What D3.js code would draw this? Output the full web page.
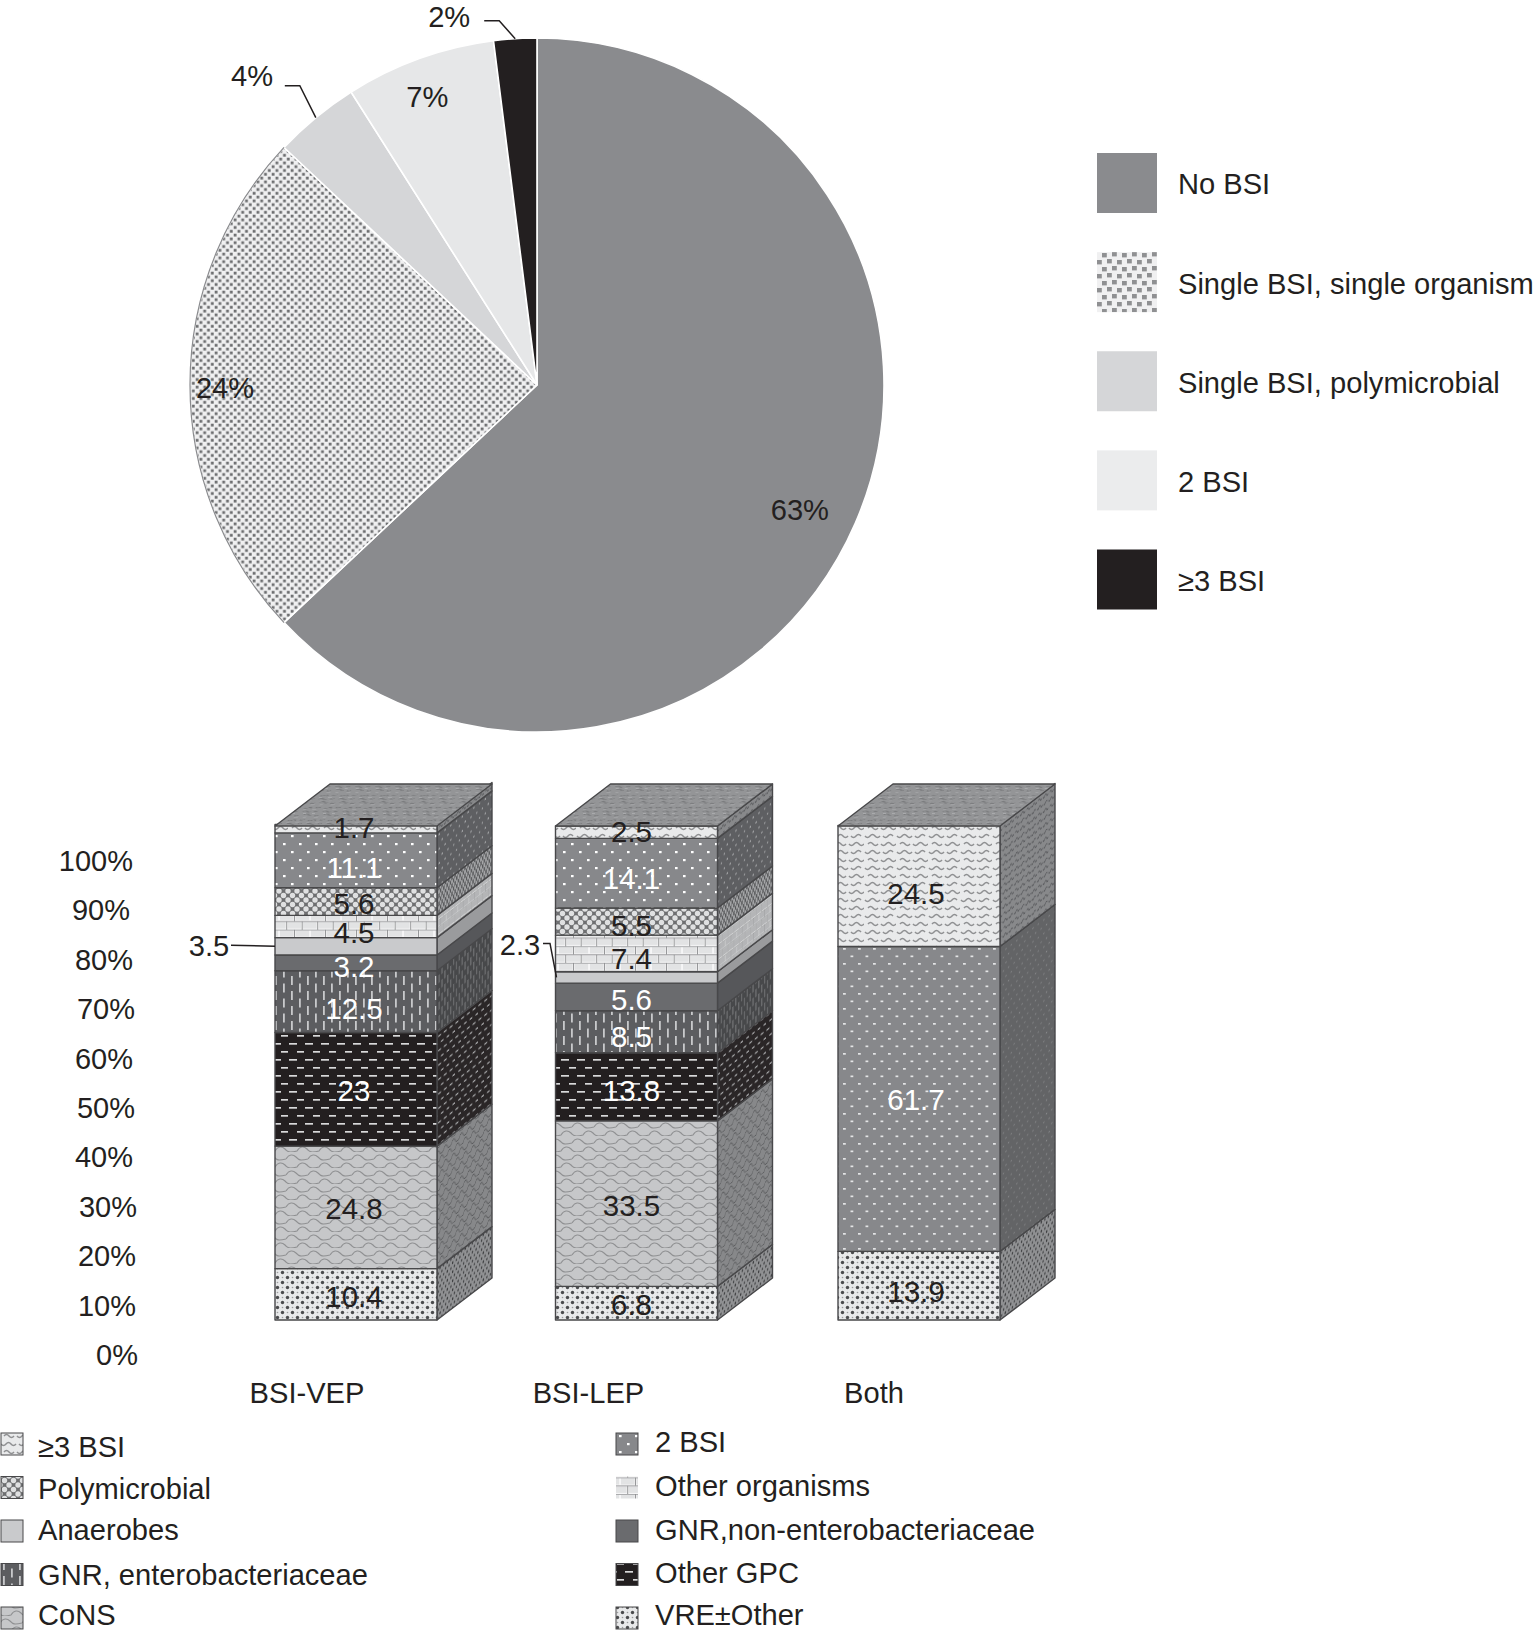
<!DOCTYPE html>
<html><head><meta charset="utf-8">
<script src="https://cdn.jsdelivr.net/npm/d3@7/dist/d3.min.js"></script>
<style>html,body{margin:0;padding:0;background:#fff}svg{display:block}text{font-family:"Liberation Sans",Arial,sans-serif;fill:#231f20}</style>
</head><body><div id="chart"></div>
<script>
// ---------- data ----------
const pieCategories = ["No BSI","Single BSI, single organism","Single BSI, polymicrobial","2 BSI","≥3 BSI"];
const pieValues = [63,24,4,7,2];
const barNames = ["BSI-VEP","BSI-LEP","Both"];
// bottom to top
const stackKeys = ["VRE±Other","CoNS","Other GPC","GNR, enterobacteriaceae","GNR,non-enterobacteriaceae","Anaerobes","Other organisms","Polymicrobial","2 BSI","≥3 BSI"];
const valuesVEP = [10.4,24.8,23,12.5,3.2,3.5,4.5,5.6,11.1,1.7];
const valuesLEP = [6.8,33.5,13.8,8.5,5.6,2.3,7.4,5.5,14.1,2.5];
const valuesBoth = [13.9,0,0,0,0,0,0,0,61.7,24.5];
const axisTicks = [0,10,20,30,40,50,60,70,80,90,100];
const legendLeft = ["≥3 BSI","Polymicrobial","Anaerobes","GNR, enterobacteriaceae","CoNS"];
const legendRight = ["2 BSI","Other organisms","GNR,non-enterobacteriaceae","Other GPC","VRE±Other"];
const whiteLabelKeys = ["2 BSI","GNR,non-enterobacteriaceae","GNR, enterobacteriaceae","Other GPC"];
const outsideLabelKeys = ["Anaerobes"];

// ---------- layout & style ----------
const W=1534,H=1632, INK="#231f20", EDGE="#48484a", FONT=29.1;
const pieCx=537,pieCy=385,pieR=347;
const pieFills=["#8a8b8e","url(#pieDots)","#d5d6d8","#e6e7e8",INK];
const pieSwatchFills=["#8a8b8e","url(#legendDots)","#d5d6d8","#ebeced",INK];
const pieLabelRadius=[291,312,421,309,379], pieLabelNudgeDeg=[2,-0.5,-3,-1,-9.8];
const barW=162, depthX=55, depthY=42;
// hand placement of the printed labels, in pixels, per bar, same order as stackKeys
const labelNudgeY=[[1,0,0,6,3,0,5,1,6,-2],[0,1,3,4,1,0,4,3,4,-2],[5,0,0,0,0,0,0,0,-1,6]];
const labelNudgeX=[-2,-5,-3];
const barNameNudgeX=[-49,-48,-45];
const tickRightEdge={0:138,10:136,20:136,30:137,40:133,50:135,60:133,70:135,80:133,90:130,100:133};
const legendTextNudge=[[3,1.5,-1,0.5,-3.5],[-2,-1.5,-1,-1.5,-3.5]];

const svg=d3.select("#chart").append("svg").attr("width",W).attr("height",H).attr("viewBox",`0 0 ${W} ${H}`);
const defs=svg.append("defs");

function makeTile(id,w,h,bg,paint,transform){
  const p=defs.append("pattern").attr("id",id).attr("patternUnits","userSpaceOnUse").attr("width",w).attr("height",h);
  if(transform)p.attr("patternTransform",transform);
  p.append("rect").attr("width",w).attr("height",h).attr("fill",bg);
  if(paint)paint(p);
}
const rects=(g,list,c)=>list.forEach(r=>g.append("rect").attr("x",r[0]).attr("y",r[1]).attr("width",r[2]).attr("height",r[3]).attr("fill",c));
const strokePath=(g,d,c,sw)=>g.append("path").attr("d",d).attr("fill","none").attr("stroke",c).attr("stroke-width",sw);
const dots=(g,list,r,c)=>list.forEach(p=>g.append("circle").attr("cx",p[0]).attr("cy",p[1]).attr("r",r).attr("fill",c));

const tiles={
  wave:{w:32,h:16,front:["#e9eaeb","#8f9092"],side:["#88898b","#5a5b5e"],paint:(g,c)=>{
    strokePath(g,"M1 4q2.5 3 5 0t5 0t5 0M19 4q2.5 3 5 0t5 0",c,1.5);
    strokePath(g,"M4 12q2.5 -3 5 0t5 0M17 12q2.5 3 5 0t5 0t5 0",c,1.5);}},
  dots:{w:16,h:16,front:["#87888b","#fff"],side:["#5e5f62","#b5b6b8"],paint:(g,c)=>rects(g,[[3,3,2.6,2.2],[11,11,2.6,2.2]],c)},
  dotsDense:{w:15,h:15,front:["#87888b","#e4e5e6"],side:["#636466","#88898b"],paint:(g,c)=>rects(g,[[3,3,2.8,1.7],[10.5,10.5,2.8,1.7]],c)},
  net:{w:9,h:9,front:["#6e6f71","#dfe0e1"],side:["#58595b","#a5a6a8"],paint:(g,c)=>dots(g,[[0,0],[9,0],[0,9],[9,9],[4.5,4.5]],2.7,c)},
  brick:{w:31,h:16.6,front:["#f6f6f7","#e2e3e4"],side:["#d2d3d4","#b4b5b7"],paint:(g,c)=>{
    rects(g,[[1,1,13.6,6.2],[16.5,1,13.6,6.2],[-7,9.3,13.6,6.2],[8.6,9.3,13.6,6.2],[24,9.3,13.6,6.2]],c);
    strokePath(g,"M0 .3H31M0 8.6H31M15.5 0V8.3M7.7 8.6V16.6M23.2 8.6V16.6","#8e8f91",.9);}},
  cons:{w:22,h:16,front:["#c6c7c9","#8f9092"],side:["#87888a","#565759"],paint:(g,c)=>{
    strokePath(g,"M0 7C3 2,7 2,10 5S14 9,22 7",c,1.1);
    strokePath(g,"M-11 15C-8 10,-4 10,-1 13S3 17,11 15C14 10,18 10,21 13S25 17,33 15",c,1.1);}},
  vDash:{w:16,h:15,front:["#5c5d60","#c8c9cb"],side:["#47484a","#8f9092"],paint:(g,c)=>rects(g,[[3,1,1.8,9],[11,8.5,1.8,9],[11,-6.5,1.8,9]],c)},
  hDash:{w:16,h:16,front:[INK,"#d8d9da"],side:["#2a2627","#a8a9ab"],paint:(g,c)=>rects(g,[[1,3,8,1.7],[9,11,8,1.7]],c)},
  vre:{w:10,h:10,front:["#e8e9ea","#4a4b4d"],side:["#8f9092","#3c3d3f"],paint:(g,c)=>{
    dots(g,[[2.5,2.5],[7.5,7.5]],1.7,c);dots(g,[[2.5,7.5],[7.5,2.5]],.8,"#9a9b9d");}},
  anaerobes:{w:8,h:8,front:["#c9cacc",null],side:["#9a9b9d",null]},
  gnrNon:{w:8,h:8,front:["#6a6b6e",null],side:["#56575a",null]}
};
const sideTransform="skewY(-37.4) scale(.36,.9)";
Object.entries(tiles).forEach(([k,t])=>{
  makeTile(k+"Front",t.w,t.h,t.front[0],t.paint?g=>t.paint(g,t.front[1]):null);
  makeTile(k+"Side",t.w,t.h,t.side[0],t.paint?g=>t.paint(g,t.side[1]):null,sideTransform);
});
makeTile("pieDots",7.6,7.6,"#f0f0f1",g=>rects(g,[[.7,.7,2.8,2.8],[4.5,4.5,2.8,2.8]],"#6c6d6f"));
makeTile("legendDots",20,14,"#f0f0f1",g=>{
  rects(g,[[2,1,4.8,4.4],[12,0,4.8,4.4],[7,7,4.8,4.4],[17,8,4.8,4.4],[-3,8,4.8,4.4]],"#8f9092");});
makeTile("topFace",20,20,"#949597",g=>{
  strokePath(g,"M1 3q2 2 4 0t4 1M12 2q2 2 5 0M4 9q2 -2 5 0t3 0M15 8q2 2 4 0M1 15q2 2 4 0M9 14q3 -2 5 0t4 1",'#77787a',1.1);
  strokePath(g,"M2 6h3M11 6h4M7 12h3M16 12h3M3 18h4M12 18h3","#aeafb1",1);
},"skewX(-52.6) scale(1,.62)");

const keyPattern={"≥3 BSI":"wave","2 BSI":"dots","Polymicrobial":"net","Other organisms":"brick","Anaerobes":"anaerobes",
  "GNR,non-enterobacteriaceae":"gnrNon","GNR, enterobacteriaceae":"vDash","Other GPC":"hDash","CoNS":"cons","VRE±Other":"vre"};
const barPatternOverride={"Both":{"2 BSI":"dotsDense"}};

// ---------- pie ----------
const pie=d3.pie().sort(null).value(d=>d);
const arcs=pie(pieValues);
const arc=d3.arc().innerRadius(0).outerRadius(pieR);
const gPie=svg.append("g").attr("transform",`translate(${pieCx},${pieCy})`);
gPie.selectAll("path.slice").data(arcs).join("path").attr("class","slice").attr("d",arc)
  .attr("fill",(d,i)=>pieFills[i]).attr("stroke","#fff").attr("stroke-width",1.6);
gPie.append("path").attr("d",d3.arc().innerRadius(pieR).outerRadius(pieR)(arcs[1]))
  .attr("fill","none").attr("stroke","#8a8b8e").attr("stroke-width",1.2);
const polar=(deg,r)=>[r*Math.sin(deg*Math.PI/180),-r*Math.cos(deg*Math.PI/180)];
const midDeg=d=>(d.startAngle+d.endAngle)/2*180/Math.PI;
gPie.selectAll("text").data(arcs).join("text").attr("text-anchor","middle").attr("dy",".36em").attr("font-size",FONT)
  .attr("transform",(d,i)=>`translate(${polar(midDeg(d)+pieLabelNudgeDeg[i],pieLabelRadius[i])})`)
  .text(d=>d.value+"%");
const leaderElbow=[[-16,-32],[-16,-18]], leaderRun=-15;
[2,4].forEach((idx,n)=>{
  const p=polar(midDeg(arcs[idx]),pieR), e=[p[0]+leaderElbow[n][0],p[1]+leaderElbow[n][1]], s=[e[0]+leaderRun,e[1]];
  gPie.append("path").attr("d",d3.line()([s,e,p])).attr("fill","none").attr("stroke",INK).attr("stroke-width",1.5);
});
const pieLegendY=d3.scalePoint().domain(pieCategories).range([153,549.5]);
const gLeg=svg.append("g");
gLeg.selectAll("rect").data(pieCategories).join("rect").attr("x",1097).attr("y",d=>pieLegendY(d)).attr("width",60).attr("height",60)
  .attr("fill",(d,i)=>pieSwatchFills[i]);
gLeg.selectAll("text").data(pieCategories).join("text").attr("x",1178).attr("y",d=>pieLegendY(d)+31).attr("dy",".36em").attr("font-size",FONT).text(d=>d);

// ---------- stacked 3D bars ----------
const rows=barNames.map((n,i)=>{const vals=[valuesVEP,valuesLEP,valuesBoth][i];const o={name:n};stackKeys.forEach((k,j)=>o[k]=vals[j]);return o;});
const stacked=d3.stack().keys(stackKeys)(rows);
const y=d3.scaleLinear().domain([0,100]).range([1320,826]);
const x=d3.scaleOrdinal().domain(barNames).range([275,555.5,838]);
const gBars=svg.append("g");
const gFront=gBars.append("g"), gLabels=svg.append("g");
const faceStyle=s=>s.attr("stroke",EDGE).attr("stroke-width",1.4).attr("stroke-linejoin","round");
const patFor=(key,name)=>((barPatternOverride[name]||{})[key])||keyPattern[key];
stacked.forEach((layer,li)=>{
  layer.forEach((seg,bi)=>{
    if(seg[1]-seg[0]<=0)return;
    const name=seg.data.name,x0=x(name),x1=x0+barW,yb=y(seg[0]),yt=y(seg[1]),pat=patFor(layer.key,name);
    gBars.append("path").attr("d",d3.line()([[x1,yb],[x1+depthX,yb-depthY],[x1+depthX,yt-depthY],[x1,yt]])+"Z")
      .attr("fill",`url(#${pat}Side)`).call(faceStyle);
    gFront.append("rect").attr("x",x0).attr("y",yt).attr("width",barW).attr("height",yb-yt)
      .attr("fill",`url(#${pat}Front)`).call(faceStyle);
    if(!outsideLabelKeys.includes(layer.key))
      gLabels.append("text").attr("x",x0+barW/2+labelNudgeX[bi]).attr("y",(yb+yt)/2+1+labelNudgeY[bi][li]).attr("dy",".36em").attr("text-anchor","middle").attr("font-size",29.5)
        .style("fill",whiteLabelKeys.includes(layer.key)?"#fff":INK).text(seg.data[layer.key]);
  });
});
gFront.raise();gLabels.raise();
barNames.forEach((n,i)=>{
  const total=d3.sum(stackKeys,k=>rows[i][k]),x0=x(n),yt=y(Math.min(total,100));
  gBars.append("path").attr("d",d3.line()([[x0,yt],[x0+depthX,yt-depthY],[x0+barW+depthX,yt-depthY],[x0+barW,yt]])+"Z")
    .attr("fill","url(#topFace)").call(faceStyle);
  gBars.append("text").attr("x",x0+barW/2+barNameNudgeX[i]).attr("y",1393).attr("dy",".36em").attr("text-anchor","middle").attr("font-size",FONT).text(n);
});
// outside labels for the Anaerobes segments
const anaerobes=stacked[stackKeys.indexOf("Anaerobes")];
const midY=i=>(y(anaerobes[i][0])+y(anaerobes[i][1]))/2;
const gCall=svg.append("g");
gCall.append("path").attr("d",d3.line()([[231,midY(0)-1],[x(barNames[0]),midY(0)]])).attr("fill","none").attr("stroke",INK).attr("stroke-width",1.5);
gCall.append("path").attr("d",d3.line()([[543,midY(1)-34],[550,midY(1)-34],[x(barNames[1])+1,midY(1)]])).attr("fill","none").attr("stroke",INK).attr("stroke-width",1.5);
gCall.append("text").attr("x",209).attr("y",midY(0)-1).attr("dy",".36em").attr("text-anchor","middle").attr("font-size",FONT).text(anaerobes[0].data.Anaerobes);
gCall.append("text").attr("x",520).attr("y",midY(1)-33).attr("dy",".36em").attr("text-anchor","middle").attr("font-size",FONT).text(anaerobes[1].data.Anaerobes);

// ---------- axis (set lower than the bars, as printed) ----------
const yAxis=d3.scaleLinear().domain([0,100]).range([1354,860]);
const gAxis=svg.append("g").attr("transform","translate(133,0)")
  .call(d3.axisLeft(yAxis).tickValues(axisTicks).tickSize(0).tickPadding(0).tickFormat(d=>d+"%"));
gAxis.select(".domain").remove();
gAxis.selectAll(".tick text").attr("font-size",29).attr("font-family",'"Liberation Sans"').attr("dy",".36em").style("fill",INK)
  .attr("x",d=>tickRightEdge[d]-133);

// ---------- bottom legend ----------
const rowY=d3.scaleLinear().domain([0,4]).range([1433,1607]);
[[legendLeft,1,38],[legendRight,616,655]].forEach(([items,sx,tx],col)=>{
  const g=svg.append("g");
  g.selectAll("rect").data(items).join("rect").attr("x",sx).attr("y",(d,i)=>rowY(i)).attr("width",22).attr("height",22)
    .attr("fill",d=>`url(#${keyPattern[d]}Front)`).attr("stroke",d=>keyPattern[d]==="brick"?"none":EDGE).attr("stroke-width",1);
  g.selectAll("text").data(items).join("text").attr("x",tx).attr("y",(d,i)=>rowY(i)+11+legendTextNudge[col][i]).attr("dy",".36em").attr("font-size",FONT).text(d=>d);
});
</script></body></html>
